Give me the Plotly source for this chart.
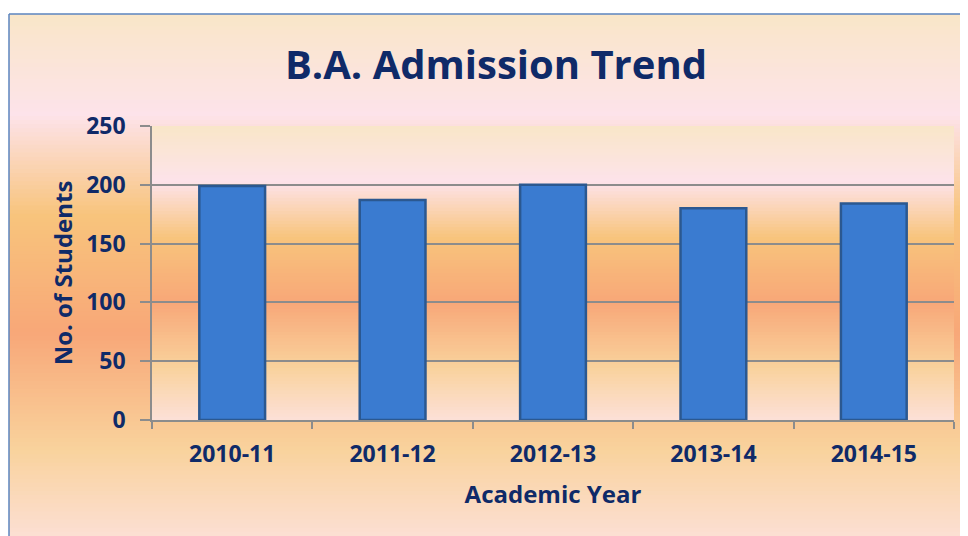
import plotly.graph_objects as go

# ---- data ----
years = ["2010-11", "2011-12", "2012-13", "2013-14", "2014-15"]
students = [199, 187, 200, 180, 184]
y_ticks = [0, 50, 100, 150, 200, 250]

W, H = 968, 536
NAVY = "#0f2a68"
GRID = "#8c8c8c"

# gradient stops (fraction from top, colour)
stops = [(0.0, (249, 230, 200)), (0.19, (253, 227, 234)), (0.38, (248, 196, 124)),
         (0.60, (248, 167, 120)), (0.82, (249, 210, 156)), (1.0, (252, 224, 216))]


def col_at(t):
    for (a, ca), (b, cb) in zip(stops[:-1], stops[1:]):
        if a <= t <= b:
            f = (t - a) / (b - a)
            c = [round(ca[i] + (cb[i] - ca[i]) * f) for i in range(3)]
            return "rgb(%d,%d,%d)" % tuple(c)
    return "rgb(%d,%d,%d)" % stops[-1][1]


OFF = 8  # page offset of the figure
# plot area in figure pixels
PL, PR, PT, PB = 152 - OFF, 954 - OFF, 126 - OFF, 420 - OFF
BL, BT = 9 - OFF, 14 - OFF  # chart border

shapes = []
N = 130
top_p = 1 - BT / H
for i in range(N):
    t0, t1 = i / N, (i + 1) / N
    y1 = top_p - t0 * top_p
    y0 = max(top_p - t1 * top_p - 0.002, 0)
    shapes.append(dict(type="rect", xref="paper", yref="paper", x0=BL / W, x1=1,
                       y0=y0, y1=y1, fillcolor=col_at((t0 + t1) / 2),
                       line=dict(width=0), layer="below"))
M = 90
for i in range(M):
    t0, t1 = i / M, (i + 1) / M
    shapes.append(dict(type="rect", xref="x domain", yref="y domain", x0=0, x1=1,
                       y0=max(1 - t1 - 0.003, 0), y1=1 - t0, fillcolor=col_at((t0 + t1) / 2),
                       line=dict(width=0), layer="below"))
# border (left and top edges)
shapes.append(dict(type="line", xref="paper", yref="paper", x0=BL / W, x1=BL / W,
                   y0=0, y1=top_p, line=dict(color="#5b85bf", width=1.5)))
shapes.append(dict(type="line", xref="paper", yref="paper", x0=BL / W, x1=1,
                   y0=top_p, y1=top_p, line=dict(color="#5b85bf", width=1.5)))

fig = go.Figure(go.Bar(
    x=years, y=students, width=0.41,
    marker=dict(color="#3a7bd0", line=dict(color="#2b5890", width=2.5)),
))

fig.update_layout(
    width=W, height=H,
    margin=dict(l=0, r=0, t=0, b=0, autoexpand=False),
    paper_bgcolor="white", plot_bgcolor="rgba(0,0,0,0)",
    font=dict(family="Open Sans", color=NAVY),
    title=dict(text="<b>B.A. Admission Trend</b>", x=(496 - OFF) / W, xanchor="center",
               y=1 - (65 - OFF) / H, yanchor="middle", font=dict(size=40, color=NAVY)),
    shapes=shapes,
    showlegend=False,
)
fig.update_xaxes(
    type="category", automargin=False,
    domain=[PL / W, PR / W],
    title=dict(text="<b>Academic Year</b>", font=dict(size=24, color=NAVY), standoff=18),
    tickfont=dict(size=23, color=NAVY, family="Open Sans"),
    tickprefix="<b>", ticksuffix="</b>",
    showline=True, linecolor=GRID, linewidth=1.5,
    ticks="outside", tickson="boundaries", ticklen=7, tickcolor=GRID, tickwidth=1.5,
    showgrid=False, ticklabelstandoff=13,
)
fig.update_yaxes(
    automargin=False,
    domain=[(H - PB) / H, (H - PT) / H],
    range=[0, 250], tickvals=y_ticks,
    ticktext=["<b>%d</b>" % v for v in y_ticks],
    title=dict(text="<b>No. of Students</b>", font=dict(size=24, color=NAVY), standoff=7),
    tickfont=dict(size=23, color=NAVY, family="Open Sans"),
    showline=True, linecolor=GRID, linewidth=1.5,
    ticks="outside", ticklen=10, tickcolor=GRID, tickwidth=1.5,
    showgrid=True, gridcolor=GRID, gridwidth=1.5, zeroline=False,
    ticklabelstandoff=10,
)

fig.write_html("out.html")
